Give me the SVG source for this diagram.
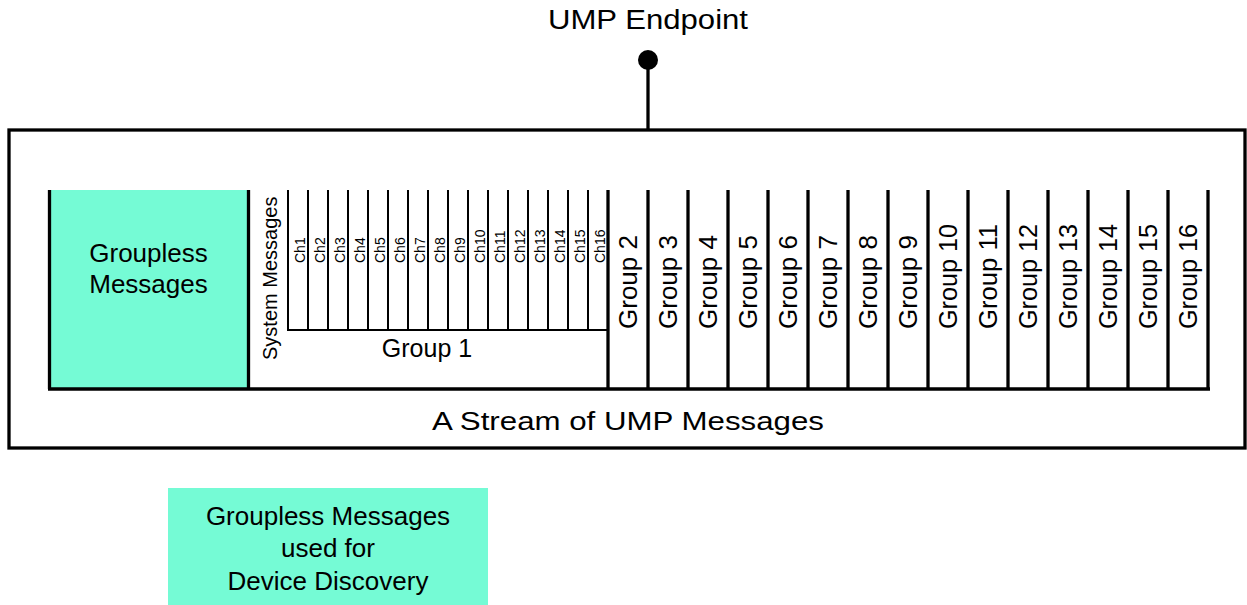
<svg xmlns="http://www.w3.org/2000/svg" width="1247" height="605" viewBox="0 0 1247 605">
<style>
text{font-family:"Liberation Sans",Arial,Helvetica,sans-serif;fill:#000}
.thick{stroke:#000;stroke-width:3.3;fill:none;stroke-linecap:butt}
.thin{stroke:#000;stroke-width:2;fill:none}
.fill{fill:#75FBD5}
.grp{font-size:26px}
.ch{font-size:14px}
</style>
<rect width="1247" height="605" fill="#fff"/>
<g id="stream">
<rect x="9" y="130" width="1236" height="318" class="thick"/>
<text x="628" y="430" font-size="26" text-anchor="middle" textLength="392" lengthAdjust="spacingAndGlyphs">A Stream of UMP Messages</text>
</g>
<g id="endpoint">
<text x="648" y="29" font-size="27" text-anchor="middle" textLength="200" lengthAdjust="spacingAndGlyphs">UMP Endpoint</text>
<circle cx="648" cy="60" r="10" fill="#000"/>
</g>
<g id="connectors">
<line x1="648" y1="60" x2="648" y2="130" class="thick" stroke-width="3.5"/>
</g>
<g id="groupless">
<rect x="50" y="190" width="198" height="199" class="fill"/>
<text x="148.5" y="262" font-size="26" text-anchor="middle">Groupless</text>
<text x="148.5" y="293" font-size="26" text-anchor="middle">Messages</text>
</g>
<g id="frame">
<line x1="49.5" y1="190" x2="49.5" y2="389" class="thick"/>
<line x1="248.5" y1="190" x2="248.5" y2="389" class="thick"/>
<line x1="48" y1="389" x2="1210" y2="389" class="thick"/>
</g>
<g id="group1">
<text transform="translate(277,360) rotate(-90)" font-size="20">System Messages</text>
<g class="thin">
<line x1="288" y1="190" x2="288" y2="330"/>
<line x1="308" y1="190" x2="308" y2="330"/>
<line x1="328" y1="190" x2="328" y2="330"/>
<line x1="348" y1="190" x2="348" y2="330"/>
<line x1="368" y1="190" x2="368" y2="330"/>
<line x1="388" y1="190" x2="388" y2="330"/>
<line x1="408" y1="190" x2="408" y2="330"/>
<line x1="428" y1="190" x2="428" y2="330"/>
<line x1="448" y1="190" x2="448" y2="330"/>
<line x1="468" y1="190" x2="468" y2="330"/>
<line x1="488" y1="190" x2="488" y2="330"/>
<line x1="508" y1="190" x2="508" y2="330"/>
<line x1="528" y1="190" x2="528" y2="330"/>
<line x1="548" y1="190" x2="548" y2="330"/>
<line x1="568" y1="190" x2="568" y2="330"/>
<line x1="588" y1="190" x2="588" y2="330"/>
<line x1="287" y1="330" x2="608" y2="330"/>
</g>
<g class="ch">
<text transform="translate(305,263) rotate(-90)">Ch1</text>
<text transform="translate(325,263) rotate(-90)">Ch2</text>
<text transform="translate(345,263) rotate(-90)">Ch3</text>
<text transform="translate(365,263) rotate(-90)">Ch4</text>
<text transform="translate(385,263) rotate(-90)">Ch5</text>
<text transform="translate(405,263) rotate(-90)">Ch6</text>
<text transform="translate(425,263) rotate(-90)">Ch7</text>
<text transform="translate(445,263) rotate(-90)">Ch8</text>
<text transform="translate(465,263) rotate(-90)">Ch9</text>
<text transform="translate(485,263) rotate(-90)">Ch10</text>
<text transform="translate(505,263) rotate(-90)">Ch11</text>
<text transform="translate(525,263) rotate(-90)">Ch12</text>
<text transform="translate(545,263) rotate(-90)">Ch13</text>
<text transform="translate(565,263) rotate(-90)">Ch14</text>
<text transform="translate(585,263) rotate(-90)">Ch15</text>
<text transform="translate(605,263) rotate(-90)">Ch16</text>
</g>
<text x="427" y="357" font-size="25" text-anchor="middle">Group 1</text>
</g>
<g id="groups">
<g class="thick">
<line x1="608" y1="190" x2="608" y2="389"/>
<line x1="648" y1="190" x2="648" y2="389"/>
<line x1="688" y1="190" x2="688" y2="389"/>
<line x1="728" y1="190" x2="728" y2="389"/>
<line x1="768" y1="190" x2="768" y2="389"/>
<line x1="808" y1="190" x2="808" y2="389"/>
<line x1="848" y1="190" x2="848" y2="389"/>
<line x1="888" y1="190" x2="888" y2="389"/>
<line x1="928" y1="190" x2="928" y2="389"/>
<line x1="968" y1="190" x2="968" y2="389"/>
<line x1="1008" y1="190" x2="1008" y2="389"/>
<line x1="1048" y1="190" x2="1048" y2="389"/>
<line x1="1088" y1="190" x2="1088" y2="389"/>
<line x1="1128" y1="190" x2="1128" y2="389"/>
<line x1="1168" y1="190" x2="1168" y2="389"/>
<line x1="1208" y1="190" x2="1208" y2="389"/>
</g>
<g class="grp">
<text transform="translate(637,329) rotate(-90)">Group 2</text>
<text transform="translate(677,329) rotate(-90)">Group 3</text>
<text transform="translate(717,329) rotate(-90)">Group 4</text>
<text transform="translate(757,329) rotate(-90)">Group 5</text>
<text transform="translate(797,329) rotate(-90)">Group 6</text>
<text transform="translate(837,329) rotate(-90)">Group 7</text>
<text transform="translate(877,329) rotate(-90)">Group 8</text>
<text transform="translate(917,329) rotate(-90)">Group 9</text>
<text transform="translate(957,329) rotate(-90)" textLength="105" lengthAdjust="spacingAndGlyphs">Group 10</text>
<text transform="translate(997,329) rotate(-90)" textLength="105" lengthAdjust="spacingAndGlyphs">Group 11</text>
<text transform="translate(1037,329) rotate(-90)" textLength="105" lengthAdjust="spacingAndGlyphs">Group 12</text>
<text transform="translate(1077,329) rotate(-90)" textLength="105" lengthAdjust="spacingAndGlyphs">Group 13</text>
<text transform="translate(1117,329) rotate(-90)" textLength="105" lengthAdjust="spacingAndGlyphs">Group 14</text>
<text transform="translate(1157,329) rotate(-90)" textLength="105" lengthAdjust="spacingAndGlyphs">Group 15</text>
<text transform="translate(1197,329) rotate(-90)" textLength="105" lengthAdjust="spacingAndGlyphs">Group 16</text>
</g>
</g>
<g id="legend">
<rect x="168" y="488" width="320" height="117" class="fill"/>
<text x="328" y="525" font-size="26" text-anchor="middle">Groupless Messages</text>
<text x="328" y="557" font-size="26" text-anchor="middle">used for</text>
<text x="328" y="590" font-size="26" text-anchor="middle">Device Discovery</text>
</g>
</svg>
